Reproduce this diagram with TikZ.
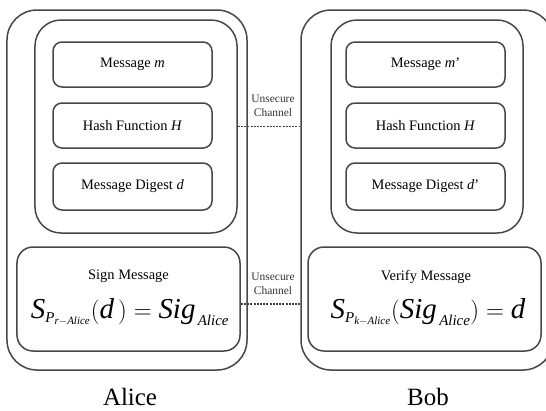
\documentclass[tikz,border=0pt]{standalone}
\usepackage{amsmath}
\usepackage{fontspec}
\setmainfont{Liberation Serif}
\DeclareMathSizes{29}{29}{15}{11}
\newcommand{\ivar}[1]{\text{\itshape #1}}
\begin{document}
\begin{tikzpicture}[x=1bp,y=-1bp,
  frame/.style={draw=black!72, line width=1.5bp, rounded corners=#1, inner sep=0pt},
  lbl/.style={font=\fontsize{14.5}{17}\selectfont, inner sep=0pt},
  chan/.style={font=\fontsize{11.5}{13.5}\selectfont, align=center, inner sep=0pt, text=black!80},
  who/.style={font=\fontsize{25}{28}\selectfont, inner sep=0pt},
  formula/.style={font=\fontsize{29}{31}\selectfont, inner sep=0pt},
  channel/.style={draw=black!75, dash pattern=on 2bp off 1.2bp, line width=1.1bp}
]
\useasboundingbox (0,0) rectangle (546,410);
\clip (0,0) rectangle (546,410);
% Alice
\node[frame=30bp, minimum width=240bp, minimum height=360bp] (aouter) at (127,190) {};
\node[frame=26bp, minimum width=202bp, minimum height=213bp] (ainner) at (136,126.5) {};
\node[frame=9bp, minimum width=159bp, minimum height=45bp] (ambox) at (132.5,64.5) {};
\node[frame=9bp, minimum width=159bp, minimum height=45bp] (ahbox) at (132.5,125.5) {};
\node[frame=9bp, minimum width=159bp, minimum height=47bp] (adbox) at (132.5,186.5) {};
\node[lbl] at (ambox) {Message \textit{m}};
\node[lbl] at (ahbox) {Hash Function \textit{H}};
\node[lbl] at (adbox) {Message Digest \textit{d}};
\node[frame=16bp, minimum width=223bp, minimum height=104bp] (asign) at (128.5,299) {};
\node[lbl] at (128.5,276) {Sign Message};
\node[formula] at (130,312) {$\ivar{S}_{\ivar{P}_{\ivar{r}-\ivar{Alice}}}(\ivar{d}\,) = \ivar{Sig}_{\,\ivar{Alice}}$};
\node[who] at (130,397) {Alice};
% Bob
\node[frame=30bp, minimum width=252bp, minimum height=360bp] (bouter) at (427,190) {};
\node[frame=26bp, minimum width=192bp, minimum height=213bp] (binner) at (427,126.5) {};
\node[frame=9bp, minimum width=159bp, minimum height=45bp] (bmbox) at (425.5,64.5) {};
\node[frame=9bp, minimum width=159bp, minimum height=45bp] (bhbox) at (425.5,125.5) {};
\node[frame=9bp, minimum width=159bp, minimum height=47bp] (bdbox) at (425.5,186.5) {};
\node[lbl] at (bmbox) {Message \textit{m}'};
\node[lbl] at (bhbox) {Hash Function \textit{H}};
\node[lbl] at (bdbox) {Message Digest \textit{d}'};
\node[frame=16bp, minimum width=233bp, minimum height=104bp] (bverify) at (424.5,299) {};
\node[lbl] at (426,277) {Verify Message};
\node[formula] at (428,312) {$\ivar{S}_{\ivar{P}_{\ivar{k}-\ivar{Alice}}}(\ivar{Sig}_{\,\ivar{Alice}}) = \ivar{d}$};
\node[who] at (428,397) {Bob};
% channels
\node[chan] (c1) at (273,106) {Unsecure\\Channel};
\node[chan] (c2) at (273,284) {Unsecure\\Channel};
\draw[channel] (ainner.east) -- (ainner.east -| bouter.west);
\coordinate (s1) at ([yshift=-5bp]asign.east);
\draw[channel] (s1) -- (s1 -| bouter.west);
\end{tikzpicture}
\end{document}
